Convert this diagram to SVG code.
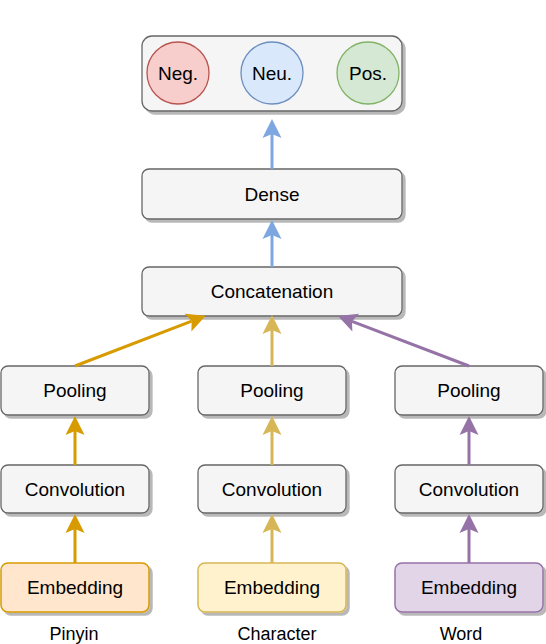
<svg xmlns="http://www.w3.org/2000/svg" width="546" height="644" viewBox="0 0 546 644">
<style>
  text { font-family: "Liberation Sans", Arial, sans-serif; fill: #000; text-anchor: middle; }
  .t { font-size: 19px; }
  .lbl { font-size: 18px; }
  .box { fill: #f5f5f5; stroke: #666666; stroke-width: 1.3; filter: url(#sh); }
  .emb-p { fill: #ffe6cc; stroke: #d79b00; stroke-width: 1.5; filter: url(#sh); }
  .emb-c { fill: #fff2cc; stroke: #d6b656; stroke-width: 1.5; filter: url(#sh); }
  .emb-w { fill: #e1d5e7; stroke: #9673a6; stroke-width: 1.5; filter: url(#sh); }
  .c { fill: none; stroke-width: 3; }
  .blue { stroke: #7ea6e0; marker-end: url(#aB); }
  .or { stroke: #d79b00; marker-end: url(#aO); }
  .ye { stroke: #d6b656; marker-end: url(#aY); }
  .pu { stroke: #9673a6; marker-end: url(#aP); }
</style>
<defs>
  <filter id="sh" x="-10%" y="-10%" width="130%" height="140%">
    <feDropShadow dx="3" dy="3" stdDeviation="0.6" flood-color="#000" flood-opacity="0.28"/>
  </filter>
  <marker id="aB" markerUnits="userSpaceOnUse" viewBox="-5 -10 21 20" markerWidth="21" markerHeight="20" refX="0" refY="0" orient="auto" overflow="visible">
    <path d="M15,0 L-4,-9.5 L0,0 L-4,9.5 Z" fill="#7ea6e0"/>
  </marker>
  <marker id="aO" markerUnits="userSpaceOnUse" viewBox="-5 -10 21 20" markerWidth="21" markerHeight="20" refX="0" refY="0" orient="auto" overflow="visible">
    <path d="M15,0 L-4,-9.5 L0,0 L-4,9.5 Z" fill="#d79b00"/>
  </marker>
  <marker id="aY" markerUnits="userSpaceOnUse" viewBox="-5 -10 21 20" markerWidth="21" markerHeight="20" refX="0" refY="0" orient="auto" overflow="visible">
    <path d="M15,0 L-4,-9.5 L0,0 L-4,9.5 Z" fill="#d6b656"/>
  </marker>
  <marker id="aP" markerUnits="userSpaceOnUse" viewBox="-5 -10 21 20" markerWidth="21" markerHeight="20" refX="0" refY="0" orient="auto" overflow="visible">
    <path d="M15,0 L-4,-9.5 L0,0 L-4,9.5 Z" fill="#9673a6"/>
  </marker>
</defs>

<g id="output">
  <rect class="box" x="142" y="36" width="260" height="75" rx="10"/>
  <g id="neg">
    <circle cx="178" cy="73" r="31" fill="#f8cecc" stroke="#b85450" stroke-width="1.3"/>
    <text class="t" x="178" y="80">Neg.</text>
  </g>
  <g id="neu">
    <circle cx="272" cy="73" r="31" fill="#dae8fc" stroke="#6c8ebf" stroke-width="1.3"/>
    <text class="t" x="272" y="80">Neu.</text>
  </g>
  <g id="pos">
    <circle cx="368" cy="73" r="31" fill="#d5e8d4" stroke="#82b366" stroke-width="1.3"/>
    <text class="t" x="368" y="80">Pos.</text>
  </g>
</g>

<g id="dense">
  <rect class="box" x="142" y="169" width="260" height="50" rx="7"/>
  <text class="t" x="272" y="201">Dense</text>
</g>

<g id="concat">
  <rect class="box" x="142" y="267" width="260" height="49" rx="7"/>
  <text class="t" x="272" y="298">Concatenation</text>
</g>

<g id="pool-p">
  <rect class="box" x="1" y="366" width="148" height="49" rx="7"/>
  <text class="t" x="75" y="397">Pooling</text>
</g>
<g id="pool-c">
  <rect class="box" x="198" y="366" width="148" height="49" rx="7"/>
  <text class="t" x="272" y="397">Pooling</text>
</g>
<g id="pool-w">
  <rect class="box" x="395" y="366" width="148" height="49" rx="7"/>
  <text class="t" x="469" y="397">Pooling</text>
</g>

<g id="conv-p">
  <rect class="box" x="1" y="465" width="148" height="48" rx="7"/>
  <text class="t" x="75" y="496">Convolution</text>
</g>
<g id="conv-c">
  <rect class="box" x="198" y="465" width="148" height="48" rx="7"/>
  <text class="t" x="272" y="496">Convolution</text>
</g>
<g id="conv-w">
  <rect class="box" x="395" y="465" width="148" height="48" rx="7"/>
  <text class="t" x="469" y="496">Convolution</text>
</g>

<g id="emb-p">
  <rect class="emb-p" x="1" y="563" width="148" height="49" rx="7"/>
  <text class="t" x="75" y="594">Embedding</text>
</g>
<g id="emb-c">
  <rect class="emb-c" x="198" y="563" width="148" height="49" rx="7"/>
  <text class="t" x="272" y="594">Embedding</text>
</g>
<g id="emb-w">
  <rect class="emb-w" x="395" y="563" width="148" height="49" rx="7"/>
  <text class="t" x="469" y="594">Embedding</text>
</g>

<g id="labels">
  <text class="lbl" x="74" y="640">Pinyin</text>
  <text class="lbl" x="277" y="640">Character</text>
  <text class="lbl" x="461" y="640">Word</text>
</g>

<g id="connectors">
  <line class="c blue" x1="272" y1="169" x2="272" y2="134"/>
  <line class="c blue" x1="272" y1="267" x2="272" y2="235"/>
  <line class="c or" x1="75" y1="366" x2="191.7" y2="321.1"/>
  <line class="c ye" x1="272" y1="366" x2="272" y2="330"/>
  <line class="c pu" x1="469" y1="366" x2="352" y2="321.3"/>
  <line class="c or" x1="75" y1="465" x2="75" y2="431"/>
  <line class="c ye" x1="272" y1="465" x2="272" y2="431"/>
  <line class="c pu" x1="469" y1="465" x2="469" y2="431"/>
  <line class="c or" x1="75" y1="563" x2="75" y2="529"/>
  <line class="c ye" x1="272" y1="563" x2="272" y2="529"/>
  <line class="c pu" x1="469" y1="563" x2="469" y2="529"/>
</g>
</svg>
